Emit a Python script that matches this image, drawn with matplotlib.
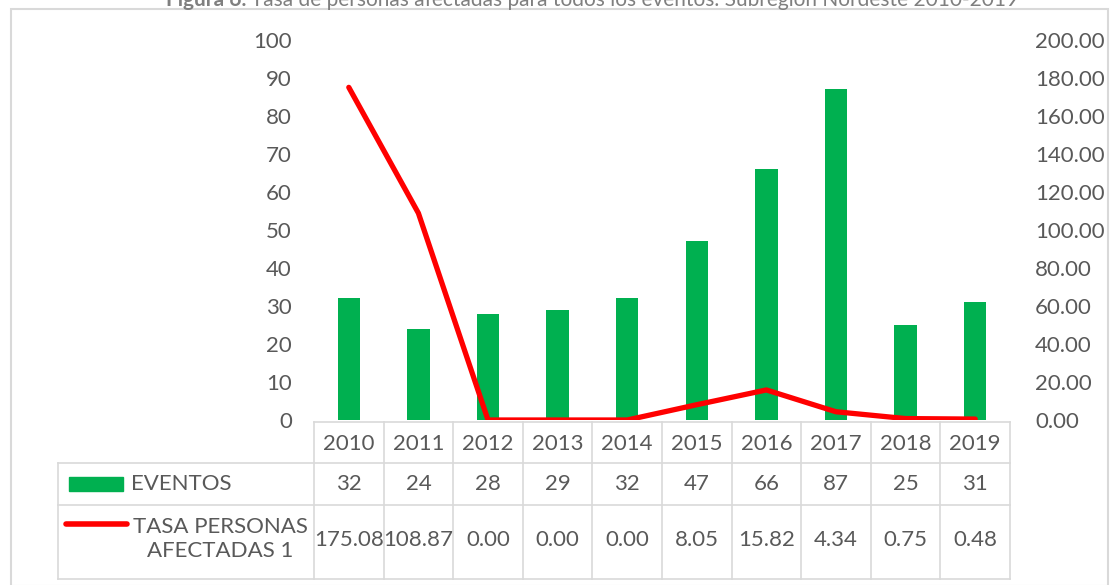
import numpy as np
import matplotlib.pyplot as plt
from matplotlib.lines import Line2D
from matplotlib.patches import Rectangle

years = ['2010', '2011', '2012', '2013', '2014', '2015', '2016', '2017', '2018', '2019']
eventos = [32, 24, 28, 29, 32, 47, 66, 87, 25, 31]
tasa = [175.08, 108.87, 0.00, 0.00, 0.00, 8.05, 15.82, 4.34, 0.75, 0.48]
left_ticks = [0, 10, 20, 30, 40, 50, 60, 70, 80, 90, 100]
right_ticks = [0, 20, 40, 60, 80, 100, 120, 140, 160, 180, 200]

plt.rcParams['font.family'] = ['Lato', 'DejaVu Sans']
gray = '#595959'
grid = '#d9d9d9'
green = '#00b050'
red = '#ff0000'
fs = 16

W, H = 1110, 585
fig = plt.figure(figsize=(W/100, H/100), dpi=100)

# overlay in pixel coordinates (y down) for frame, title and data table
ov = fig.add_axes([0, 0, 1, 1])
ov.set_xlim(0, W)
ov.set_ylim(H, 0)
ov.axis('off')

# chart frame
ov.add_patch(Rectangle((11, 9), W - 13, H - 8, fill=False, ec=grid, lw=1.5))

# title (cut off at the top in the original)
t1 = ov.text(0, 6, 'Figura 6.', fontsize=15, fontweight='bold', color='#7f7f7f', va='baseline', ha='left')
t2 = ov.text(0, 6, 'Tasa de personas afectadas para todos los eventos. Subregión Nordeste 2010-2019',
             fontsize=15, color='#7f7f7f', va='baseline', ha='left')
fig.canvas.draw()
w1 = t1.get_window_extent().width * W / fig.bbox.width
w2 = t2.get_window_extent().width * W / fig.bbox.width
start = 592 - (w1 + 5 + w2) / 2
t1.set_x(start)
t2.set_x(start + w1 + 5)

# main plot area
x0, x1 = 314, 1010
y_top, y_bot = 40, 420
ax = fig.add_axes([x0/W, (H - y_bot)/H, (x1 - x0)/W, (y_bot - y_top)/H])
ax.patch.set_alpha(0)
x = np.arange(len(years))
ax.bar(x, eventos, width=0.32, color=green, zorder=2)
ax.set_xlim(-0.5, len(years) - 0.5)
ax.set_ylim(0, 100)
ax.set_yticks(left_ticks)
ax.set_yticklabels([str(v) for v in left_ticks])
ax.set_xticks([])
ax.tick_params(axis='y', length=0, pad=16, labelsize=fs, labelcolor=gray)
for s in ax.spines.values():
    s.set_visible(False)

ax2 = ax.twinx()
ax2.plot(x, tasa, color=red, lw=3.8, solid_capstyle='round', solid_joinstyle='round', zorder=3)
ax2.set_ylim(0, 200)
ax2.set_yticks(right_ticks)
ax2.set_yticklabels(['%.2f' % v for v in right_ticks])
ax2.tick_params(axis='y', length=0, pad=18, labelsize=fs, labelcolor=gray)
for s in ax2.spines.values():
    s.set_visible(False)

# data table
col_w = (x1 - x0) / len(years)
r0, r1, r2, r3 = 422, 463, 505, 579
leg_x = 58
lk = dict(color=grid, lw=1.2)
ov.add_line(Line2D([x0, x1], [r0, r0], **lk))
for yy in (r1, r2, r3):
    ov.add_line(Line2D([leg_x, x1], [yy, yy], **lk))
ov.add_line(Line2D([leg_x, leg_x], [r1, r3], **lk))
for i in range(len(years) + 1):
    xx = x0 + i * col_w
    ov.add_line(Line2D([xx, xx], [r0, r3], **lk))

for i, yr in enumerate(years):
    cx = x0 + (i + 0.5) * col_w
    ov.text(cx, (r0 + r1) / 2 + 1, yr, fontsize=fs, color=gray, ha='center', va='center')
    ov.text(cx, (r1 + r2) / 2, str(eventos[i]), fontsize=fs, color=gray, ha='center', va='center')
    ov.text(cx, 540, '%.2f' % tasa[i], fontsize=fs, color=gray, ha='center', va='center')

# legend keys inside table
ov.add_patch(Rectangle((69, 477), 54, 14, color=green))
ov.text(131, 484, 'EVENTOS', fontsize=fs, color=gray, ha='left', va='center')
ov.add_line(Line2D([66, 127], [524, 524], color=red, lw=4, solid_capstyle='round'))
ov.text(220, 539, 'TASA PERSONAS\nAFECTADAS 1', fontsize=fs, color=gray,
        ha='center', va='center', linespacing=1.3)

plt.savefig('out.png', dpi=100)
